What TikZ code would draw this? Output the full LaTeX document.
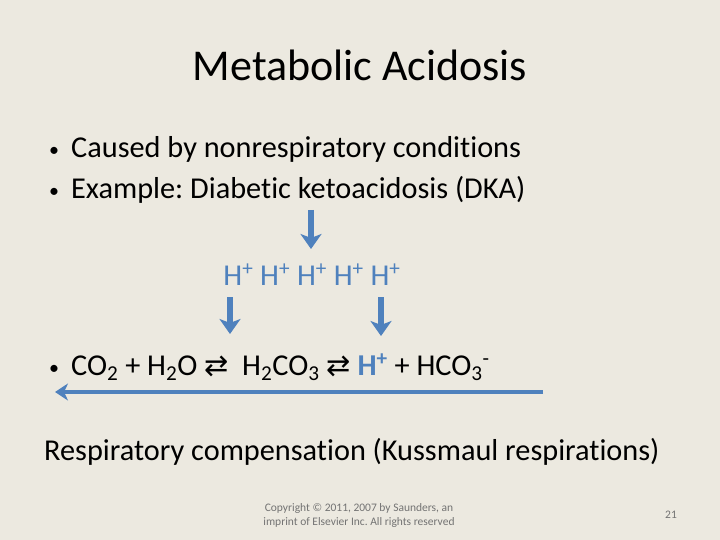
\documentclass[tikz,border=0pt]{standalone}
\usepackage{fontspec}
\setmainfont{Carlito}[Ligatures=NoCommon]
\newfontfamily\symfont{DejaVu Sans}
\usetikzlibrary{arrows.meta}
\definecolor{slidebg}{RGB}{236,233,224}
\definecolor{accblue}{RGB}{79,129,189}
\definecolor{notegray}{RGB}{115,115,115}
\newcommand{\bulletmark}{\makebox[22pt][l]{\fontsize{20}{20}\selectfont\raisebox{1pt}{•}}}
\newcommand{\eqarr}{{\symfont\fontsize{29}{30}\selectfont ⇄}}
\frenchspacing

\begin{document}
\begin{tikzpicture}[x=1pt, y=-1pt,
  bodytext/.style={font=\fontsize{30.3}{36}\selectfont, anchor=base west, inner sep=0pt},
  fatarrow/.style={draw=accblue, line width=6.5pt, -{Stealth[length=15pt, width=21pt, inset=4pt]}},
  longarrow/.style={draw=accblue, line width=4.5pt, -{Stealth[length=13pt, width=17pt, inset=4pt]}}]
  \fill[slidebg] (0,0) rectangle (720,540);

  % Title
  \node[font=\fontsize{44}{52}\selectfont, anchor=base, inner sep=0pt] (title) at (360,81) {Metabolic Acidosis};

  % Bullets
  \node[bodytext] (cause) at (49,158) {\bulletmark Caused by nonrespiratory conditions};
  \node[bodytext] (example) at (49,199) {\bulletmark Example: Diabetic ketoacidosis (DKA)};

  % Hydrogen ions
  \node[bodytext, anchor=base, text=accblue] (ions) at (312,285) {H\textsuperscript{+} H\textsuperscript{+} H\textsuperscript{+} H\textsuperscript{+} H\textsuperscript{+}};

  % Buffer equation
  \node[bodytext] (buffer) at (49,375) {\bulletmark CO\textsubscript{2} + H\textsubscript{2}O \eqarr\ \ H\textsubscript{2}CO\textsubscript{3} \eqarr\ \textcolor{accblue}{\textbf{H\textsuperscript{+}}} + HCO\textsubscript{3}\textsuperscript{-}};

  % Compensation
  \node[bodytext] (comp) at (44,460) {Respiratory compensation (Kussmaul respirations)};

  % Arrows
  \coordinate (srcA) at (311,210);
  \coordinate (dstA) at (311,249);
  \coordinate (srcB) at (230,297);
  \coordinate (dstB) at (230,334);
  \coordinate (srcC) at (381,297);
  \coordinate (dstC) at (381,336);
  \coordinate (shiftR) at (543,392);
  \coordinate (shiftL) at (55,392);
  \draw[fatarrow] (srcA) -- (dstA);
  \draw[fatarrow] (srcB) -- (dstB);
  \draw[fatarrow] (srcC) -- (dstC);
  \draw[longarrow] (shiftR) -- (shiftL);

  % Footer
  \node[font=\fontsize{11.5}{14}\selectfont, text=notegray, align=center, inner sep=0pt] (copy) at (359,515) {Copyright © 2011, 2007 by Saunders, an\\imprint of Elsevier Inc. All rights reserved};
  \node[font=\fontsize{11.5}{12}\selectfont, text=notegray, inner sep=0pt] (page) at (671,515) {21};
\end{tikzpicture}
\end{document}
